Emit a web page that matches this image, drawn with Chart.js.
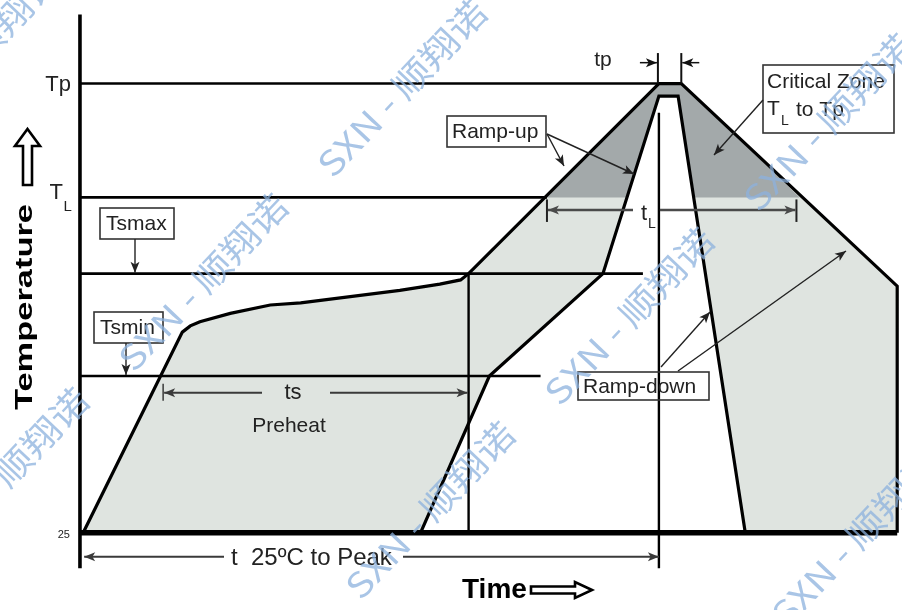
<!DOCTYPE html>
<html>
<head>
<meta charset="utf-8">
<script src="https://cdn.jsdelivr.net/npm/chart.js@4.4.1/dist/chart.umd.min.js"></script>
<style>
  html, body { margin: 0; padding: 0; background: #fff; }
  #wrap { width: 902px; height: 610px; }
</style>
</head>
<body>
<div id="wrap"><canvas id="reflowChart" width="902" height="610"></canvas></div>
<script>
// reflow profile, time in s / temperature in °C (read off the picture, not to scale)
const PROFILE_TIME = [0, 62, 67, 73, 92, 117, 136, 167, 198, 223, 236, 241, 360, 374, 509, 509];
const PROFILE_TEMP = [25, 121, 124, 126, 130, 134, 135, 138, 141, 144, 146, 149, 240, 240, 143, 25];

// inner (ramp-down side) boundary of the shaded band
const INNER_TIME = [211, 254, 325, 360, 372, 414];
const INNER_TEMP = [25, 100, 149, 234, 234, 25];

// critical zone (TL to Tp), dark shading
const ZONE_TIME = [290, 360, 374, 448, 382.6, 372, 360, 339.4];
const ZONE_TEMP = [185.5, 240, 240, 185.5, 185.5, 234, 234, 185.5];

const LEVEL_LABELS = ['Tp', 'TL', 'Tsmax', 'Tsmin'];
const LEVEL_TEMPS = [240, 185.5, 149, 100];
const LEVEL_ENDS = [360, 290, 350, 286];

const MARK_TIMES = [241, 360];
const MARK_FROM = [25, 8];
const MARK_TO = [149, 226];

const AXIS_TIME = -2;
const BASE_TEMP = 25;
const BASE_END = 509;

const TS_SPAN = [50, 241];
const TL_SPAN = [290, 446];
const TP_SPAN = [360, 374];
const T25_SPAN = [0, 360];

const pts = (ts, cs) => ts.map((t, i) => ({ x: t, y: cs[i] }));

const line = (data, width, order, color = '#000') => ({
  data,
  borderColor: color,
  borderWidth: width,
  pointRadius: 0,
  tension: 0,
  fill: false,
  order,
});

const shape = (data, color, order) => ({
  data,
  borderWidth: 0,
  borderColor: 'rgba(0,0,0,0)',
  backgroundColor: color,
  pointRadius: 0,
  tension: 0,
  fill: 'shape',
  order,
});

const outline = pts(PROFILE_TIME, PROFILE_TEMP);
const inner = pts(INNER_TIME, INNER_TEMP);

const datasets = [
  shape(outline.concat(inner.slice().reverse()), '#dfe4e0', 40),
  shape(pts(ZONE_TIME, ZONE_TEMP), '#a3a9aa', 39),
];

LEVEL_TEMPS.forEach((c, i) => {
  datasets.push(line([{ x: AXIS_TIME, y: c }, { x: LEVEL_ENDS[i], y: c }], 2.6, 20));
});
MARK_TIMES.forEach((t, i) => {
  datasets.push(line([{ x: t, y: MARK_FROM[i] }, { x: t, y: MARK_TO[i] }], 2.4, 20));
});
datasets.push(line(outline, 3.2, 5));
datasets.push(line(inner, 3.2, 5));
datasets.push(line([{ x: AXIS_TIME, y: BASE_TEMP }, { x: BASE_END, y: BASE_TEMP }], 5.5, 2));
datasets.push(line([{ x: AXIS_TIME, y: 8 }, { x: AXIS_TIME, y: 273 }], 3.6, 2));

// ---- drawing helpers ----
function head(ctx, x, y, ang, len = 11, half = 4.5) {
  ctx.save();
  ctx.translate(x, y);
  ctx.rotate(ang);
  ctx.beginPath();
  ctx.moveTo(0, 0);
  ctx.lineTo(-len, -half);
  ctx.lineTo(-len * 0.75, 0);
  ctx.lineTo(-len, half);
  ctx.closePath();
  ctx.fill();
  ctx.restore();
}

function arrow(ctx, x1, y1, x2, y2, width = 1.4, color = '#222') {
  ctx.save();
  ctx.strokeStyle = color;
  ctx.fillStyle = color;
  ctx.lineWidth = width;
  ctx.beginPath();
  ctx.moveTo(x1, y1);
  ctx.lineTo(x2, y2);
  ctx.stroke();
  head(ctx, x2, y2, Math.atan2(y2 - y1, x2 - x1));
  ctx.restore();
}

function seg(ctx, x1, y1, x2, y2, width = 1.5, color = '#222') {
  ctx.save();
  ctx.strokeStyle = color;
  ctx.lineWidth = width;
  ctx.beginPath();
  ctx.moveTo(x1, y1);
  ctx.lineTo(x2, y2);
  ctx.stroke();
  ctx.restore();
}

function text(ctx, str, x, y, size = 21, align = 'left', weight = 'normal', color = '#222') {
  ctx.save();
  ctx.font = `${weight} ${size}px "Liberation Sans", Arial, sans-serif`;
  ctx.fillStyle = color;
  ctx.textAlign = align;
  ctx.textBaseline = 'middle';
  ctx.fillText(str, x, y);
  ctx.restore();
}

function box(ctx, x, y, w, h) {
  ctx.save();
  ctx.strokeStyle = '#333';
  ctx.lineWidth = 1.6;
  ctx.strokeRect(x, y, w, h);
  ctx.restore();
}

const notesPlugin = {
  id: 'reflowNotes',
  afterDatasetsDraw(chart) {
    const { ctx } = chart;
    const X = (t) => chart.scales.x.getPixelForValue(t);
    const Y = (c) => chart.scales.y.getPixelForValue(c);
    const ax = X(AXIS_TIME);

    // level labels on the left
    text(ctx, 'Tp', ax - 9, Y(LEVEL_TEMPS[0]) + 1, 22, 'right');
    text(ctx, 'T', ax - 17, Y(LEVEL_TEMPS[1]) - 4, 22, 'right');
    text(ctx, 'L', ax - 8, Y(LEVEL_TEMPS[1]) + 9, 15, 'right');
    text(ctx, '25', ax - 10, Y(BASE_TEMP) + 2, 11, 'right');

    // Tsmax / Tsmin boxes
    box(ctx, 100, 208, 74, 31);
    text(ctx, 'Tsmax', 106, 224, 21);
    arrow(ctx, 135, 239, 135, Y(LEVEL_TEMPS[2]) - 1);
    box(ctx, 94, 312, 69, 31);
    text(ctx, 'Tsmin', 100, 328, 21);
    arrow(ctx, 126, 343, 126, Y(LEVEL_TEMPS[3]) - 1);

    // ts preheat dimension
    const yts = Y(92);
    const dimC = '#3a3a3a';
    seg(ctx, X(TS_SPAN[0]), yts - 9, X(TS_SPAN[0]), yts + 8, 1.5, dimC);
    arrow(ctx, 262, yts, X(TS_SPAN[0]) + 1, yts, 2, dimC);
    arrow(ctx, 330, yts, X(TS_SPAN[1]) - 1, yts, 2, dimC);
    text(ctx, 'ts', 293, yts, 22, 'center');
    text(ctx, 'Preheat', 289, 426, 21, 'center');

    // t 25 to peak
    const y25 = Y(13.5);
    arrow(ctx, 224, y25, X(T25_SPAN[0]) + 1, y25, 2, dimC);
    arrow(ctx, 403, y25, X(T25_SPAN[1]), y25, 2, dimC);
    text(ctx, 't  25ºC to Peak', 231, y25 + 2, 24, 'left');

    // tp
    const ytp = Y(250);
    seg(ctx, X(TP_SPAN[0]) - 1, Y(LEVEL_TEMPS[0]), X(TP_SPAN[0]) - 1, Y(254.6), 2, '#111');
    seg(ctx, X(TP_SPAN[1]), Y(LEVEL_TEMPS[0]), X(TP_SPAN[1]), Y(254.6), 2, '#111');
    arrow(ctx, X(TP_SPAN[0]) - 19, ytp, X(TP_SPAN[0]) - 2, ytp, 1.5, '#111');
    arrow(ctx, X(TP_SPAN[1]) + 18, ytp, X(TP_SPAN[1]) + 1, ytp, 1.5, '#111');
    text(ctx, 'tp', 603, ytp - 2, 21, 'center');

    // tL
    const ytl = Y(179.5);
    seg(ctx, X(TL_SPAN[0]), Y(LEVEL_TEMPS[1]) + 2, X(TL_SPAN[0]), ytl + 12, 2, '#222');
    seg(ctx, X(TL_SPAN[1]), Y(LEVEL_TEMPS[1]) + 2, X(TL_SPAN[1]), ytl + 12, 2, '#222');
    arrow(ctx, 633, ytl, X(TL_SPAN[0]) + 1, ytl, 2.4, '#4a4a4a');
    arrow(ctx, X(MARK_TIMES[1]) + 1, ytl, X(TL_SPAN[1]) - 1, ytl, 2.4, '#4a4a4a');
    text(ctx, 't', 644, ytl + 4, 22, 'center');
    text(ctx, 'L', 652, ytl + 14, 14, 'center');

    // Ramp-up
    box(ctx, 447, 116, 99, 31);
    text(ctx, 'Ramp-up', 452, 132, 21);
    arrow(ctx, 547, 134, 564, 166);
    arrow(ctx, 547, 134, 634, 174);

    // Critical zone
    box(ctx, 763, 65, 131, 68);
    text(ctx, 'Critical Zone', 767, 82, 21);
    text(ctx, 'T', 767, 109, 21);
    text(ctx, 'L', 781, 121, 14);
    text(ctx, 'to Tp', 796, 110, 21);
    arrow(ctx, 763, 100, 714, 155);

    // Ramp-down
    box(ctx, 578, 372, 131, 28);
    text(ctx, 'Ramp-down', 583, 387, 21);
    arrow(ctx, 661, 367, 710, 312);
    arrow(ctx, 678, 371, 846, 251);

    // axis titles
    ctx.save();
    ctx.fillStyle = '#fff';
    ctx.strokeStyle = '#000';
    ctx.lineWidth = 2.6;
    ctx.beginPath();
    ctx.moveTo(27.5, 129);
    ctx.lineTo(40, 146);
    ctx.lineTo(32, 146);
    ctx.lineTo(32, 185);
    ctx.lineTo(23, 185);
    ctx.lineTo(23, 146);
    ctx.lineTo(15, 146);
    ctx.closePath();
    ctx.fill();
    ctx.stroke();

    ctx.beginPath();
    ctx.moveTo(592, 590);
    ctx.lineTo(575, 582);
    ctx.lineTo(575, 586.5);
    ctx.lineTo(531, 586.5);
    ctx.lineTo(531, 593.5);
    ctx.lineTo(575, 593.5);
    ctx.lineTo(575, 598);
    ctx.closePath();
    ctx.fill();
    ctx.stroke();
    ctx.restore();

    text(ctx, 'Time', 462, 590, 28, 'left', 'bold', '#000');

    ctx.save();
    ctx.translate(32, 307);
    ctx.rotate(-Math.PI / 2);
    ctx.font = 'bold 24px "Liberation Sans", Arial, sans-serif';
    const tw = ctx.measureText('Temperature').width;
    ctx.scale(206 / tw, 1);
    ctx.fillStyle = '#000';
    ctx.textAlign = 'center';
    ctx.textBaseline = 'alphabetic';
    ctx.fillText('Temperature', 0, 0);
    ctx.restore();

    // watermark
    const marks = [[-24, 54], [203, 282], [402, 88], [4, 476], [430, 510], [629, 316], [828, 122], [856, 538]];
    ctx.save();
    ctx.font = '34px "Noto Sans CJK SC", "Noto Sans", sans-serif';
    ctx.fillStyle = 'rgba(140, 178, 222, 0.75)';
    ctx.textAlign = 'center';
    ctx.textBaseline = 'middle';
    const ww = ctx.measureText('SXN - 顺翔诺').width;
    marks.forEach(([cx, cy]) => {
      ctx.save();
      ctx.translate(cx, cy);
      ctx.rotate(-46.5 * Math.PI / 180);
      ctx.scale(228 / ww, 1);
      ctx.fillText('SXN - 顺翔诺', 0, 0);
      ctx.restore();
    });
    ctx.restore();
  },
};

new Chart(document.getElementById('reflowChart'), {
  type: 'line',
  data: { datasets },
  options: {
    responsive: false,
    animation: false,
    layout: { padding: 0 },
    scales: {
      x: { type: 'linear', min: -52, max: 512, display: false },
      y: { type: 'linear', min: -12, max: 280, display: false },
    },
    plugins: {
      legend: { display: false },
      tooltip: { enabled: false },
    },
  },
  plugins: [notesPlugin],
});
</script>
</body>
</html>
